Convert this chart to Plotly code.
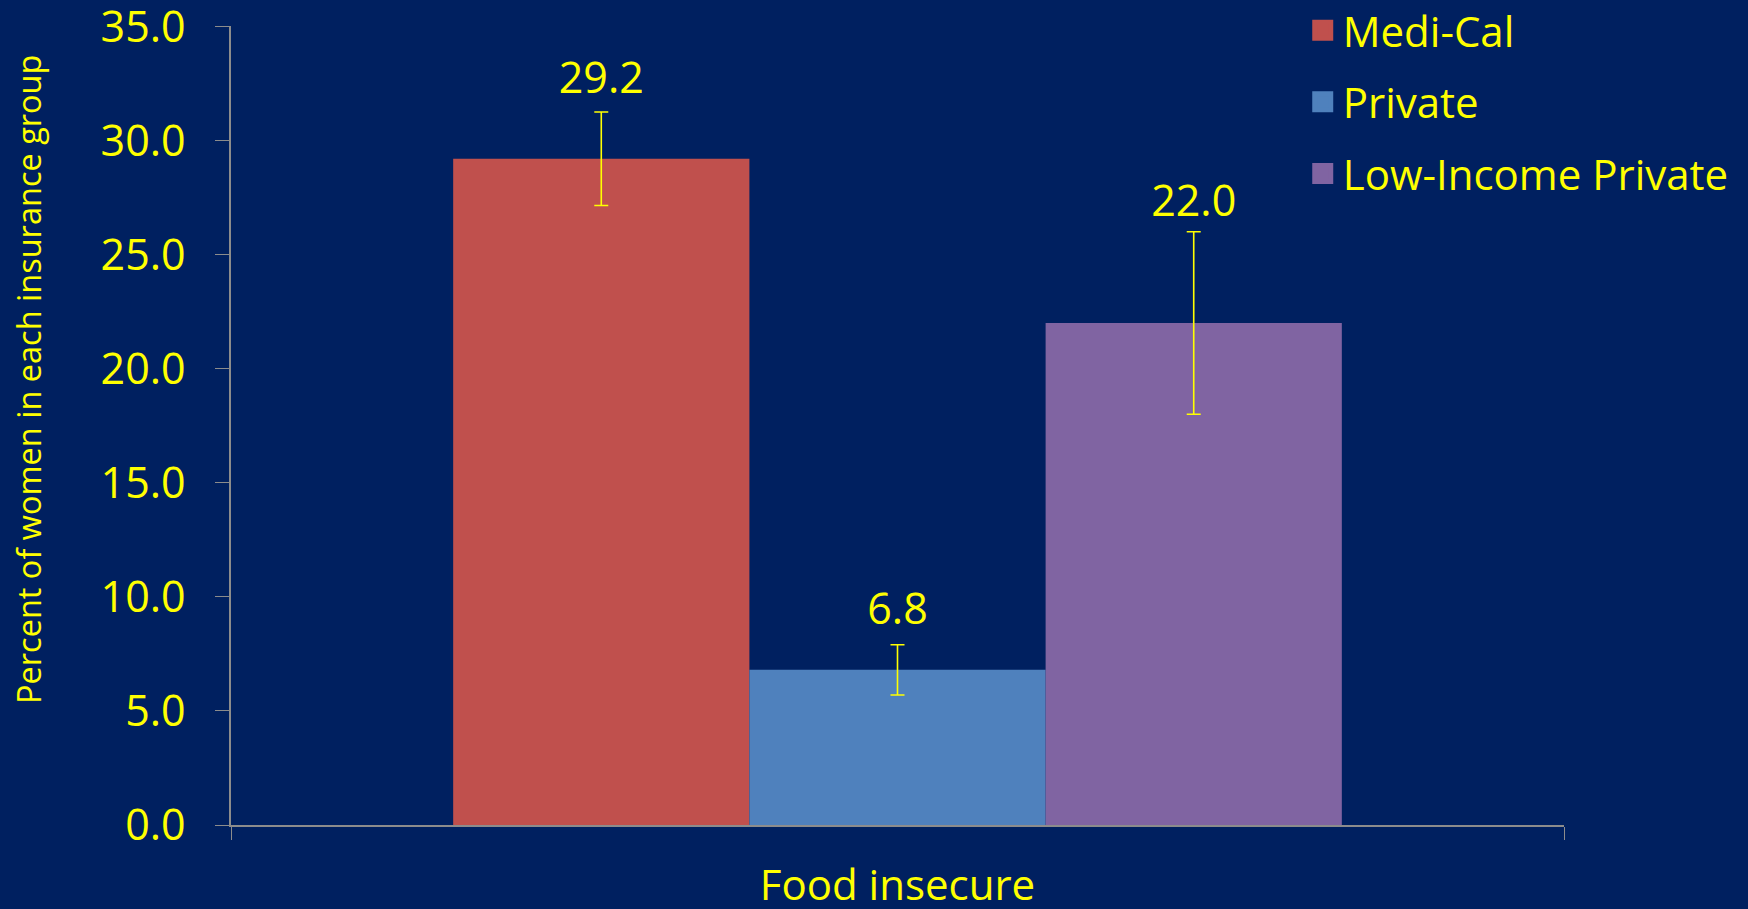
import plotly.graph_objects as go

categories = ["Food insecure"]
series_names = ["Medi-Cal", "Private", "Low-Income Private"]
values = [29.2, 6.8, 22.0]
errors = [2.05, 1.1, 4.0]
colors = ["#C0504D", "#4F81BD", "#8064A2"]
label_pads = [11, 15, 0]
y_ticks = [0, 5, 10, 15, 20, 25, 30, 35]
y_title = "Percent of women in each insurance group"

BG = "#002060"
YEL = "#FFFF00"
GRAY = "#8C8C8C"
FONT = "Open Sans"

fig = go.Figure()
groups = ["a", "b", "c"]
for name, v, e, c, g in zip(series_names, values, errors, colors, groups):
    fig.add_trace(go.Bar(
        x=categories, y=[v], name=name, marker=dict(color=c, line=dict(width=0)),
        error_y=dict(type="data", array=[e], color=YEL, thickness=1.6, width=7),
        offsetgroup=g, alignmentgroup="g", showlegend=False,
    ))
for name, v, e, g, p in zip(series_names, values, errors, groups, label_pads):
    fig.add_trace(go.Scatter(
        x=categories, y=[v + e], mode="markers+text", text=[f"{v:.1f}"],
        marker=dict(size=p, opacity=0),
        textposition="top center", textfont=dict(color=YEL, size=43, family=FONT),
        offsetgroup=g, alignmentgroup="g", showlegend=False, hoverinfo="skip",
    ))
for name, c, g in zip(series_names, colors, groups):
    fig.add_trace(go.Scatter(
        x=[None], y=[None], mode="markers", name=name, legendgroup=name,
        marker=dict(symbol="square", size=16, color=c, line=dict(width=5, color=c)),
    ))

fig.add_annotation(
    text=y_title, textangle=-90, showarrow=False,
    xref="paper", yref="paper", x=-0.1515, y=0.557,
    xanchor="center", yanchor="middle",
    font=dict(size=32.5, color=YEL, family=FONT),
)

fig.update_layout(
    width=1748, height=909,
    paper_bgcolor=BG, plot_bgcolor=BG,
    margin=dict(l=231, r=184, t=26, b=84, autoexpand=False),
    barmode="group", bargap=1/3, bargroupgap=0,
    scattermode="group", scattergap=1/3,
    font=dict(family=FONT, color=YEL),
    legend=dict(x=0.804, xanchor="left", y=1.037, yanchor="top",
                font=dict(size=42, color=YEL, family=FONT),
                bgcolor="rgba(0,0,0,0)", tracegroupgap=14),
    xaxis=dict(showline=True, linecolor=GRAY, linewidth=2, ticks="outside",
               tickson="boundaries", ticklen=13, tickcolor=GRAY, tickwidth=1,
               showgrid=False, tickfont=dict(size=42, color=YEL, family=FONT),
               ticklabelstandoff=23, automargin=False),
    yaxis=dict(range=[0, 35.02], tickvals=y_ticks, tickformat=".1f",
               showline=True, linecolor=GRAY, linewidth=1.5, ticks="outside",
               ticklen=14, tickcolor=GRAY, showgrid=False, zeroline=False,
               ticklabelstandoff=21, ticklabeloverflow="allow", automargin=False,
               tickfont=dict(size=43, color=YEL, family=FONT)),
)

fig.write_html(
    "out.html",
    config={"displayModeBar": False},
    post_script="document.body.style.margin='0';document.body.style.background='%s';" % BG,
)
